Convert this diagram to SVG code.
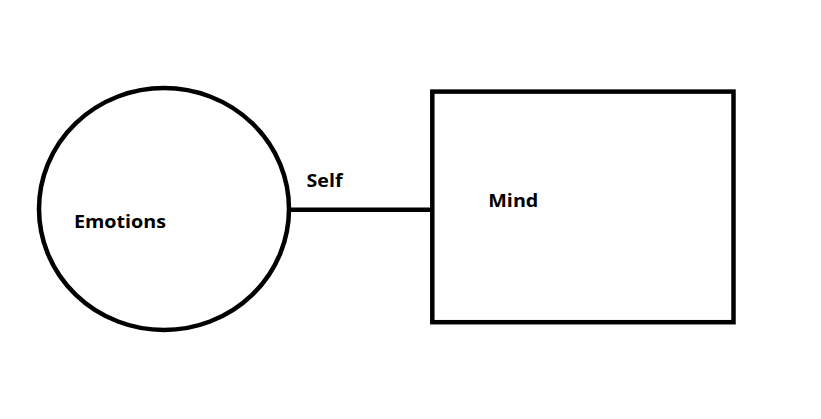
<svg xmlns="http://www.w3.org/2000/svg" width="821" height="419" viewBox="0 0 821 419">
<style>
.shape{fill:none;stroke:#000;stroke-width:4.5}
.lbl{font-family:"Open Sans","Noto Sans","Liberation Sans",sans-serif;font-weight:bold;font-size:18px;fill:#000}
</style>
<rect width="821" height="419" fill="#fff"/>
<g id="connectors">
<line x1="290" y1="209.7" x2="434" y2="209.7" stroke="#000" stroke-width="4.5"/>
<text class="lbl" x="306.5" y="186.7" textLength="36" lengthAdjust="spacingAndGlyphs">Self</text>
</g>
<g id="emotions">
<ellipse class="shape" cx="164" cy="209" rx="125" ry="121"/>
<text class="lbl" x="74" y="228" textLength="92" lengthAdjust="spacingAndGlyphs">Emotions</text>
</g>
<g id="mind">
<rect class="shape" x="432.3" y="91.6" width="301.2" height="230.6"/>
<text class="lbl" x="488.3" y="206.7" textLength="50" lengthAdjust="spacingAndGlyphs">Mind</text>
</g>
</svg>
